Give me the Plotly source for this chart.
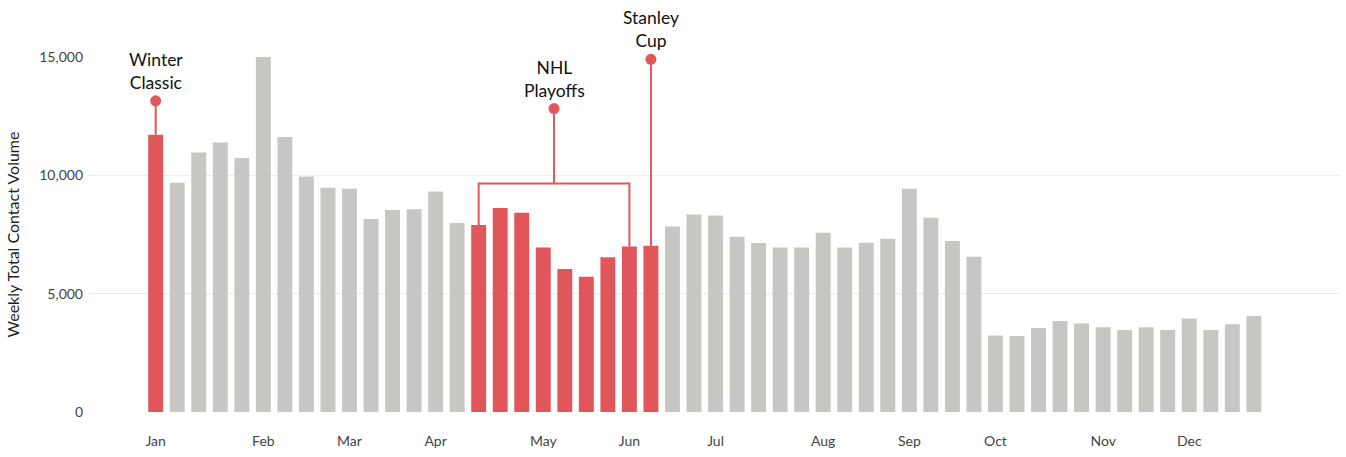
import pandas as pd
import plotly.graph_objects as go

# Weekly contact volume, one value per week starting Sunday 1 Jan 2017
week_start = "2017-01-01"
weekly_volume = [
    11720, 9690, 10970, 11390, 10730, 15000, 11620, 9950, 9480, 9430,
    8160, 8540, 8570, 9320, 7990, 7900, 8620, 8420, 6950, 6040,
    5720, 6540, 6990, 7020, 7840, 8350, 8300, 7400, 7140, 6950,
    6950, 7570, 6950, 7150, 7320, 9430, 8210, 7230, 6560, 3230,
    3210, 3550, 3840, 3740, 3580, 3470, 3580, 3470, 3950, 3470,
    3710, 4060,
]

# Hockey events: label, first week index, last week index, callout level
event_labels = ["Winter<br>Classic", "NHL<br>Playoffs", "Stanley<br>Cup"]
event_first_week = [0, 15, 23]
event_last_week = [0, 22, 23]
event_callout_level = [13150, 12820, 14900]
bracket_level = 9650

RED = "#e0565b"
GREY = "#c8c6c2"
FONT = "Lato, 'Open Sans', sans-serif"

weeks = pd.date_range(week_start, periods=len(weekly_volume), freq="7D")
highlight = set()
for a, b in zip(event_first_week, event_last_week):
    highlight.update(range(a, b + 1))
colors = [RED if i in highlight else GREY for i in range(len(weeks))]

# Tick on the first week that starts in each month
month_ticks = pd.Series(weeks).groupby(weeks.month).first().tolist()

fig = go.Figure()
fig.add_trace(go.Bar(
    x=weeks, y=weekly_volume, marker=dict(color=colors, line=dict(width=0)),
    width=4.85 * 24 * 3600 * 1000, hoverinfo="x+y", showlegend=False,
))


def connector(xs, ys):
    fig.add_trace(go.Scatter(
        x=xs, y=ys, mode="lines", line=dict(color=RED, width=2),
        hoverinfo="skip", showlegend=False, cliponaxis=False,
    ))


for label, a, b, level in zip(event_labels, event_first_week,
                              event_last_week, event_callout_level):
    if a == b:
        cx = weeks[a]
        connector([cx, cx], [level, weekly_volume[a]])
    else:
        cx = weeks[a] + (weeks[b] - weeks[a]) / 2
        connector([cx, cx], [level, bracket_level])
        connector([weeks[a], weeks[a], weeks[b], weeks[b]],
                  [weekly_volume[a], bracket_level, bracket_level, weekly_volume[b]])
    fig.add_trace(go.Scatter(
        x=[cx], y=[level], mode="markers",
        marker=dict(color=RED, size=11), hoverinfo="skip",
        showlegend=False, cliponaxis=False,
    ))
    fig.add_annotation(
        x=cx, y=level, text=label, showarrow=False, yanchor="bottom",
        yshift=6, font=dict(family=FONT, size=17.5, color="#111111"),
        align="center",
    )

fig.update_layout(
    width=1346, height=457,
    margin=dict(l=88, r=6, t=57, b=45),
    paper_bgcolor="white", plot_bgcolor="white",
    font=dict(family=FONT, size=14, color="#444444"),
    bargap=0.3,
    xaxis=dict(
        range=["2016-12-10", "2018-01-21"],
        tickvals=month_ticks, tickformat="%b",
        showgrid=False, zeroline=False, showline=False,
        ticks="outside", ticklen=16, tickcolor="rgba(0,0,0,0)",
        tickfont=dict(size=14, color="#444444"),
    ),
    yaxis=dict(
        range=[0, 15000], tickvals=[0, 5000, 10000, 15000],
        tickformat=",", showgrid=True, gridcolor="#ebebeb", gridwidth=1,
        zeroline=False, showline=False, ticks="", ticklabelstandoff=4,
        tickfont=dict(size=14, color="#444444"),
        title=dict(text="Weekly Total Contact Volume",
                   font=dict(size=16, color="#222222"), standoff=15),
    ),
)

fig.write_html("out.html")
